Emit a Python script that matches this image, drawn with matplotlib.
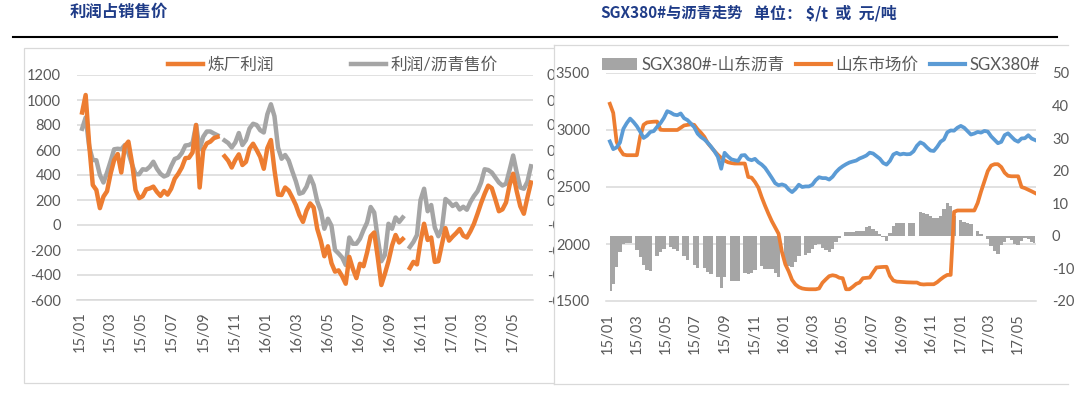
import numpy as np
import pandas as pd
import matplotlib
matplotlib.use('Agg')
import matplotlib.pyplot as plt
import matplotlib.dates as mdates
import matplotlib.transforms as mtransforms
from matplotlib.patches import Rectangle, Patch
from matplotlib.lines import Line2D

plt.rcParams['font.family'] = ['Lato', 'Noto Sans CJK SC', 'DejaVu Sans']
plt.rcParams['axes.unicode_minus'] = False

nan = np.nan

# weekly readings, 2015-01-05 .. 2017-06-05
weeks = pd.date_range('2015-01-05', periods=127, freq='7D')

# left chart: refinery profit (yuan/t) and profit / asphalt price ratio
refinery_profit = [
    900, 1040, 640, 320, 280, 135, 227, 270, 410, 520,
    568, 420, 630, 667, 500, 280, 215, 230, 285, 293,
    307, 265, 233, 272, 243, 290, 370, 410, 460, 535,
    538, 580, 800, 300, 600, 653, 667, 695, 705, nan,
    550, 515, 460, 520, 565, 480, 505, 610, 650, 600,
    545, 450, 615, 680, 440, 243, 240, 300, 275, 220,
    160, 80, 25, 117, 173, 140, -30, -125, -250, -170,
    -305, -373, -363, -410, -470, -255, -350, -425, -310, -330,
    -220, -90, -60, -260, -480, -390, -290, -165, -80, -140,
    -112, nan, -345, -295, -315, -130, 10, -120, -100, -295,
    -290, -155, -25, -125, -93, -65, -32, -85, -100, -50,
    10, 90, 175, 250, 315, 295, 205, 110, 125, 180,
    320, 410, 270, 150, 90, 220, 340,
]
profit_ratio = [
    0.285, 0.330, 0.213, 0.160, 0.159, 0.100, 0.070, 0.110, 0.155, 0.203,
    0.205, 0.203, 0.220, 0.188, 0.143, 0.103, 0.103, 0.123, 0.121, 0.133,
    0.153, 0.125, 0.105, 0.094, 0.100, 0.135, 0.164, 0.170, 0.188, 0.218,
    0.220, 0.228, 0.300, 0.203, 0.253, 0.274, 0.274, 0.266, 0.259, nan,
    0.238, 0.228, 0.210, 0.230, 0.268, 0.220, 0.240, 0.286, 0.305, 0.300,
    0.279, 0.270, 0.343, 0.383, 0.335, 0.210, 0.165, 0.180, 0.158, 0.115,
    0.075, 0.025, 0.030, 0.053, 0.094, 0.060, -0.005, -0.043, -0.115, -0.075,
    -0.103, -0.200, -0.214, -0.230, -0.260, -0.150, -0.175, -0.175, -0.155, -0.120,
    -0.090, -0.028, -0.050, -0.155, -0.245, -0.220, -0.095, -0.115, -0.070, -0.088,
    -0.070, nan, -0.188, -0.168, -0.140, 0.000, 0.045, -0.045, -0.020, -0.110,
    -0.145, -0.115, 0.004, -0.008, -0.024, -0.015, -0.038, -0.027, -0.039, -0.008,
    0.016, 0.035, 0.070, 0.123, 0.120, 0.110, 0.090, 0.070, 0.058, 0.065,
    0.120, 0.178, 0.110, 0.050, 0.045, 0.073, 0.135,
]

# right chart: SGX380#, Shandong asphalt price, and the spread bars
sgx380 = [
    2900, 2832, 2847, 2890, 3010, 3060, 3100, 3070, 3033, 2985,
    2930, 2950, 2983, 2990, 3028, 3060, 3105, 3165, 3153, 3135,
    3130, 3145, 3103, 3087, 3057, 3025, 2968, 2938, 2918, 2888,
    2853, 2813, 2765, 2660, 2800, 2768, 2743, 2735, 2729, 2777,
    2780, 2745, 2735, 2747, 2717, 2697, 2668, 2625, 2580, 2533,
    2515, 2523, 2512, 2478, 2455, 2482, 2520, 2500, 2505, 2505,
    2520, 2560, 2586, 2578, 2578, 2565, 2590, 2630, 2660, 2682,
    2700, 2715, 2724, 2732, 2750, 2762, 2776, 2801, 2794, 2771,
    2748, 2711, 2696, 2729, 2785, 2800, 2785, 2792, 2787, 2789,
    2813, 2862, 2892, 2877, 2846, 2820, 2816, 2852, 2897, 2917,
    2980, 2996, 2994, 3020, 3036, 3020, 2990, 2960, 2969, 2983,
    2977, 2992, 2986, 2944, 2914, 2884, 2896, 2955, 2971, 2941,
    2912, 2897, 2926, 2928, 2954, 2925, 2912,
]
shandong_price = [
    3230, 3150, 2897, 2828, 2785, 2779, 2779, 2779, 2779, 2945,
    3046, 3066, 3070, 3073, 3074, 3002, 3000, 3000, 3000, 3000,
    3000, 3020, 3040, 3045, 3050, 3045, 3006, 2976, 2940, 2886,
    2850, 2815, 2783, 2755, 2732, 2717, 2710, 2706, 2706, 2706,
    2706, 2588, 2582, 2544, 2495, 2410, 2335, 2265, 2200, 2145,
    2090, 1930, 1822, 1760, 1685, 1645, 1622, 1610, 1605, 1603,
    1603, 1603, 1610, 1660, 1690, 1718, 1726, 1720, 1704, 1700,
    1603, 1603, 1625, 1650, 1662, 1700, 1703, 1706, 1751, 1794,
    1797, 1799, 1800, 1720, 1680, 1670, 1668, 1666, 1664, 1663,
    1662, 1662, 1648, 1645, 1647, 1647, 1647, 1665, 1690, 1712,
    1729, 1729, 2282, 2294, 2294, 2294, 2294, 2294, 2294, 2360,
    2460, 2550, 2640, 2688, 2700, 2700, 2675, 2625, 2598, 2594,
    2594, 2594, 2500, 2490, 2476, 2462, 2447,
]
spread = [
    -16.9, -14.8, -9.7, -5.1, -2.6, -2.1, -2.1, 0, -4.2, -6.6,
    -8.9, -10.6, -10.8, 0, -6.3, -4.9, -3.9, 0, -3.4, -4.0,
    -4.8, 0, -6.3, -7.3, 0, -9.0, -10.0, 0, -9.8, -11.0,
    -11.8, 0, -12.5, -16.0, -12.5, 0, -13.8, -13.8, -13.8, 0,
    -11.3, -11.7, -11.4, -10.5, 0, -9.2, -10.2, -10.2, -10.3, -11.3,
    -12.5, 0, -8.3, -9.3, -9.6, -8.0, -6.1, 0, -6.0, -5.4,
    -4.0, -2.8, -2.6, -3.8, -4.4, -4.9, -3.9, -1.9, -0.8, 0,
    1.2, 1.3, 1.2, 1.4, 1.4, 1.5, 2.6, 3.1, 2.1, 1.5,
    0.5, -0.3, -1.5, 1.0, 2.9, 3.9, 3.8, 3.9, 0, 3.8,
    4.1, 0, 7.2, 7.0, 6.6, 6.1, 5.6, 5.5, 6.2, 8.2,
    10.0, 9.3, 6.0, 0, 5.0, 4.4, 4.0, 3.6, 0, 1.6,
    0.6, 0, -0.9, -3.0, -4.5, -5.5, -2.8, -1.8, -0.8, -1.3,
    -2.6, -2.8, -1.6, -0.7, -1.1, -1.9, -2.1,
]

profit_ticks = list(range(-600, 1201, 200))
ratio_ticks = [-0.4, -0.3, -0.2, -0.1, 0.0, 0.1, 0.2, 0.3, 0.4, 0.5]
price_ticks = [1500, 2000, 2500, 3000, 3500]
spread_ticks = [-20, -10, 0, 10, 20, 30, 40, 50]

ORANGE = '#ED7D31'
GRAY = '#A5A5A5'
BLUE = '#5B9BD5'
GRID = '#D9D9D9'
TXT = '#595959'
TITLE = '#1F3C88'

W, H = 1080, 396


def fx(px):
    return px / W


def fy(py):
    return 1 - py / H


def rect(x0, y0, x1, y1):
    return [fx(x0), fy(y1), (x1 - x0) / W, (y1 - y0) / H]


def style_dates(ax, pad):
    ax.xaxis.set_major_locator(mdates.MonthLocator(bymonth=(1, 3, 5, 7, 9, 11)))
    ax.xaxis.set_major_formatter(mdates.DateFormatter('%y/%m'))
    ax.tick_params(axis='x', length=0, pad=pad, labelrotation=90,
                   labelsize=10.5, labelcolor=TXT)


def bare(axes, bottom):
    for a in axes:
        for s in a.spines.values():
            s.set_visible(False)
    if bottom is not None:
        bottom.spines['bottom'].set_visible(True)
        bottom.spines['bottom'].set_color(GRID)
        bottom.spines['bottom'].set_linewidth(1.1)


fig = plt.figure(figsize=(W / 100, H / 100), dpi=100)

# ---- left chart: 利润占销售价 ----
fig.add_artist(Rectangle((fx(24), fy(383)), fx(560) - fx(24), fy(48) - fy(383),
                         facecolor='none', edgecolor=GRID, lw=0.9, zorder=0.9))

ax_l = fig.add_axes(rect(77, 75, 533, 300))
ax_l2 = ax_l.twinx()
ax_l.set_zorder(0.2)
ax_l2.set_zorder(0.5)

ax_l.plot(weeks, profit_ratio, color=GRAY, lw=3.2, solid_joinstyle='round')
ax_l2.plot(weeks, refinery_profit, color=ORANGE, lw=3.2, solid_joinstyle='round')

ax_l.set_ylim(-0.4, 0.5)
ax_l.set_yticks(ratio_ticks)
ax_l.set_yticklabels(['%.1f' % t for t in ratio_ticks])
ax_l.yaxis.tick_right()
ax_l.yaxis.grid(True, color=GRID, lw=1.1)
ax_l.set_axisbelow(True)
ax_l.tick_params(axis='y', length=0, pad=10, labelsize=10.5, labelcolor=TXT)

# the right-hand labels of this chart are cut off by the neighbouring chart
cut = mtransforms.TransformedBbox(mtransforms.Bbox.from_extents(0, 0, fx(554), 1),
                                  fig.transFigure)
for tick in ax_l.yaxis.get_major_ticks():
    tick.label2.set_clip_box(cut)
    tick.label2.set_clip_on(True)

ax_l2.set_ylim(-600, 1200)
ax_l2.set_yticks(profit_ticks)
ax_l2.yaxis.tick_left()
ax_l2.tick_params(axis='y', length=0, pad=11.5, labelsize=10.5, labelcolor=TXT)

ax_l.set_xlim(pd.Timestamp('2014-12-26'), pd.Timestamp('2017-06-09'))
style_dates(ax_l, 8)
bare((ax_l, ax_l2), ax_l)

fig.legend([Line2D([], [], color=ORANGE, lw=3.2), Line2D([], [], color=GRAY, lw=3.2)],
           ['炼厂利润', '利润/沥青售价'], loc='center',
           bbox_to_anchor=(fx(333), fy(65)), ncol=2, frameon=False, fontsize=12,
           handlelength=2.1, handletextpad=0.3, columnspacing=4.6,
           labelcolor=TXT, borderaxespad=0, borderpad=0)

# ---- right chart panel ----
fig.add_artist(Rectangle((fx(554), fy(384)), fx(1080) - fx(554), fy(45) - fy(384),
                         facecolor='white', edgecolor='none', zorder=1))
for xs, ys in (([554, 554], [45, 384]), ([554, 1068], [45, 45]), ([554, 1068], [384, 384])):
    fig.add_artist(Line2D([fx(v) for v in xs], [fy(v) for v in ys],
                          color=GRID, lw=0.9, zorder=1.1))

# ---- right chart: SGX380#与沥青走势 ----
box_r = rect(606, 73, 1036, 301)
ax_r = fig.add_axes(box_r, zorder=2)          # spread bars + grid
ax_r2 = fig.add_axes(box_r, zorder=3, sharex=ax_r)   # price lines
ax_r2.patch.set_visible(False)

ax_r.fill_between(weeks, 0, spread, step='mid', color=GRAY, linewidth=0)
ax_r.set_ylim(-20, 50)
ax_r.tick_params(axis='y', left=False, labelleft=False)

ax_r2.plot(weeks, shandong_price, color=ORANGE, lw=2.7, solid_joinstyle='round')
ax_r2.plot(weeks, sgx380, color=BLUE, lw=2.7, solid_joinstyle='round')
ax_r2.set_ylim(1500, 3500)
ax_r2.set_yticks(price_ticks)
ax_r2.tick_params(axis='y', length=0, pad=11.5, labelsize=10.5, labelcolor=TXT)
ax_r2.tick_params(axis='x', bottom=False, labelbottom=False)

grid_tf = mtransforms.blended_transform_factory(ax_r.transAxes, ax_r2.transData)
for v in price_ticks[1:]:
    ax_r.add_line(Line2D([0, 1], [v, v], transform=grid_tf, color=GRID, lw=1.1, zorder=0.5))

# spread scale on the right
ax_s = fig.add_axes(box_r, zorder=6, sharex=ax_r)
ax_s.patch.set_visible(False)
ax_s.set_ylim(-20, 50)
ax_s.set_yticks(spread_ticks[:-1])
ax_s.yaxis.tick_right()
ax_s.tick_params(axis='y', length=0, pad=11.5, labelsize=10.5, labelcolor=TXT)
ax_s.tick_params(axis='x', bottom=False, labelbottom=False)
# top value of the spread scale, placed like the other tick labels
ax_s.annotate(str(spread_ticks[-1]), xy=(1, spread_ticks[-1]),
              xycoords=('axes fraction', 'data'), xytext=(11.5, 0),
              textcoords='offset points', ha='left', va='center_baseline',
              fontsize=10.5, color=TXT, annotation_clip=False)

ax_r.set_xlim(pd.Timestamp('2014-12-28'), pd.Timestamp('2017-06-07'))
style_dates(ax_r, 8.5)
bare((ax_r, ax_r2, ax_s), ax_r)

leg_r = fig.legend([Patch(facecolor=GRAY, edgecolor='none'),
                    Line2D([], [], color=ORANGE, lw=3), Line2D([], [], color=BLUE, lw=3)],
                   ['SGX380#-山东沥青', '山东市场价', 'SGX380#'], loc='center',
                   bbox_to_anchor=(fx(821), fy(65)), ncol=3, frameon=False, fontsize=12,
                   handlelength=2.1, handletextpad=0.25, columnspacing=0.7,
                   labelcolor=TXT, borderaxespad=0, borderpad=0)
leg_r.set_zorder(5)

# ---- page headers ----
fig.add_artist(Line2D([fx(13), fx(1057)], [fy(37), fy(37)], color='black', lw=1.5, zorder=3))
head = dict(fontweight='bold', color=TITLE, va='center', ha='left',
            family=['Noto Sans CJK SC', 'DejaVu Sans'])
fig.text(fx(70), fy(12), '利润占销售价', fontsize=11.8, **head)
fig.text(fx(600), fy(13), 'SGX380#与沥青走势', fontsize=11, **head)
fig.text(fx(754), fy(13), '单位： $/t  或  元/吨', fontsize=11.5, **head)

fig.savefig('out.png', dpi=100)
